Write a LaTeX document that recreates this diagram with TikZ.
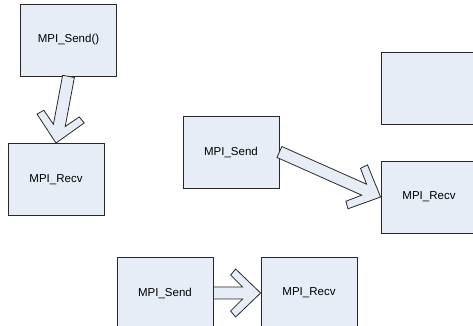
\documentclass[tikz,border=0pt]{standalone}
\usepackage{fontspec}
\setmainfont{Liberation Sans}
\usepackage{tikz}
\usetikzlibrary{calc}
\definecolor{boxfill}{RGB}{231,237,247}
\definecolor{boxline}{RGB}{40,40,40}
\tikzstyle{mpibox}=[rectangle,draw=boxline,fill=boxfill,line width=0.8pt,
                    minimum width=96pt,minimum height=72pt,inner sep=0pt,
                    font=\fontsize{11.5}{13}\selectfont]
\tikzstyle{fatarrow}=[draw=boxline,fill=boxfill,line width=0.8pt,line join=miter]

\begin{document}
\begin{tikzpicture}[x=1pt,y=-1pt]
    \newcommand{\fatarrow}[2]{%
      \path let \p1=($(#2)-(#1)$), \n1={atan2(\y1,\x1)},
                \n2={veclen(\x1,\y1)} in
            \pgfextra{\xdef\faang{\n1}\xdef\falen{\n2}};
      \draw[fatarrow,shift={(#1)},rotate=\faang]
        (0,6) -- (\falen-18,6) -- (\falen-30,18) -- (\falen-25,24)
        -- (\falen,0) -- (\falen-25,-24) -- (\falen-30,-18)
        -- (\falen-18,-6) -- (0,-6) -- cycle;}
    \clip (0,0) rectangle (473,326);
    % blocking send, top left
    \node (s1) at (68.5,40) [mpibox]{MPI\_Send()};
    \node (r1) at (56,179.5) [mpibox]{MPI\_Recv};
    % middle
    \node (s2) at (231,152) [mpibox]{MPI\_Send};
    \node (e2) at (429,88) [mpibox]{};
    \node (r2) at (429,197) [mpibox]{MPI\_Recv};
    % bottom
    \node (s3) at (165,293) [mpibox]{MPI\_Send};
    \node (r3) at (309,293) [mpibox]{MPI\_Recv};
    \fatarrow{s1.south}{r1.north}
    \fatarrow{s2.east}{r2.west}
    \fatarrow{s3.east}{r3.west}
  \end{tikzpicture}
\end{document}
